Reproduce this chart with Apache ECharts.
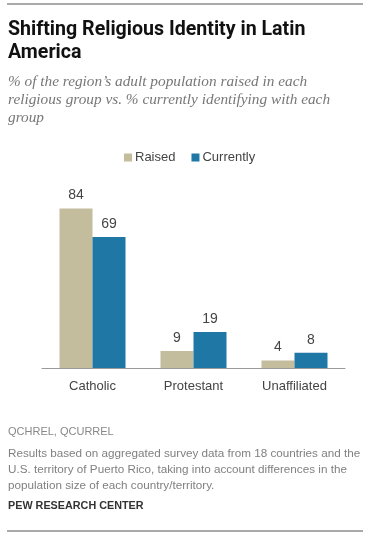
<!DOCTYPE html>
<html>
<head>
<meta charset="utf-8">
<script src="https://cdn.jsdelivr.net/npm/echarts@6/dist/echarts.min.js"></script>
<style>
html,body{margin:0;padding:0;background:#fff;}
#c{width:370px;height:540px;}
</style>
</head>
<body>
<div id="c"></div>
<script>
var categories = ['Catholic', 'Protestant', 'Unaffiliated'];
var raised = [84, 9, 4];
var currently = [69, 19, 8];
var seriesNames = ['Raised', 'Currently'];
var titleLines = ['Shifting Religious Identity in Latin', 'America'];
var subtitleLines = ["% of the region\u2019s adult population raised in each", "religious group vs. % currently identifying with each", "group"];
var sourceText = 'QCHREL, QCURREL';
var noteLines = ['Results based on aggregated survey data from 18 countries and the', 'U.S. territory of Puerto Rico, taking into account differences in the', 'population size of each country/territory.'];
var creditText = 'PEW RESEARCH CENTER';

var chart = echarts.init(document.getElementById('c'), null, {renderer: 'canvas'});
var sans = 'Liberation Sans, Arial, sans-serif';
var serif = 'Liberation Serif, Georgia, serif';

function txt(x, y, s, style) {
  return {type: 'text', left: x, top: y, style: Object.assign({text: s, fontFamily: sans}, style)};
}
var graphics = [
  {type: 'line', shape: {x1: 7, y1: 4, x2: 363, y2: 4}, style: {stroke: '#555', lineWidth: 1}},
  {type: 'line', shape: {x1: 7, y1: 531, x2: 363, y2: 531}, style: {stroke: '#555', lineWidth: 1}},
  txt(8, 20, titleLines[0], {fontSize: 19.6, fontWeight: 'bold', fill: '#111', fontFamily: 'Roboto, sans-serif'}),
  txt(8, 43, titleLines[1], {fontSize: 19.6, fontWeight: 'bold', fill: '#111', fontFamily: 'Roboto, sans-serif'}),
  txt(8, 74, subtitleLines[0], {fontSize: 15.3, fontStyle: 'italic', fill: '#777', fontFamily: serif}),
  txt(8, 92, subtitleLines[1], {fontSize: 15.3, fontStyle: 'italic', fill: '#777', fontFamily: serif}),
  txt(8, 110, subtitleLines[2], {fontSize: 15.3, fontStyle: 'italic', fill: '#777', fontFamily: serif}),
  txt(8, 426, sourceText, {fontSize: 11, fill: '#888'}),
  txt(8, 448, noteLines[0], {fontSize: 11.7, fill: '#808080'}),
  txt(8, 464, noteLines[1], {fontSize: 11.7, fill: '#808080'}),
  txt(8, 480, noteLines[2], {fontSize: 11.7, fill: '#808080'}),
  txt(8, 501, creditText, {fontSize: 10.8, fill: '#333', fontWeight: 'bold'})
];

chart.setOption({
  animation: false,
  textStyle: {fontFamily: sans},
  legend: {
    data: seriesNames,
    left: 119, top: 146,
    icon: 'rect', itemWidth: 8, itemHeight: 8, itemGap: 16,
    textStyle: {fontSize: 13, color: '#444', padding: [0, 0, 0, -2]}
  },
  grid: {left: 42, right: 25, top: 178, bottom: 172},
  xAxis: {
    type: 'category', data: categories,
    axisLine: {lineStyle: {color: '#999', width: 1}},
    axisTick: {show: false},
    axisLabel: {fontSize: 13, color: '#444', margin: 12}
  },
  yAxis: {type: 'value', min: 0, max: 100, show: false, splitLine: {show: false}},
  series: [
    {name: seriesNames[0], type: 'bar', data: raised, barWidth: 33, barGap: '0%',
     itemStyle: {color: '#c3bc9d'},
     label: {show: true, position: 'top', distance: 6, fontSize: 14, color: '#444'}},
    {name: seriesNames[1], type: 'bar', data: currently, barWidth: 33,
     itemStyle: {color: '#1f77a6'},
     label: {show: true, position: 'top', distance: 6, fontSize: 14, color: '#444'}}
  ],
  graphic: graphics
});
</script>
</body>
</html>
